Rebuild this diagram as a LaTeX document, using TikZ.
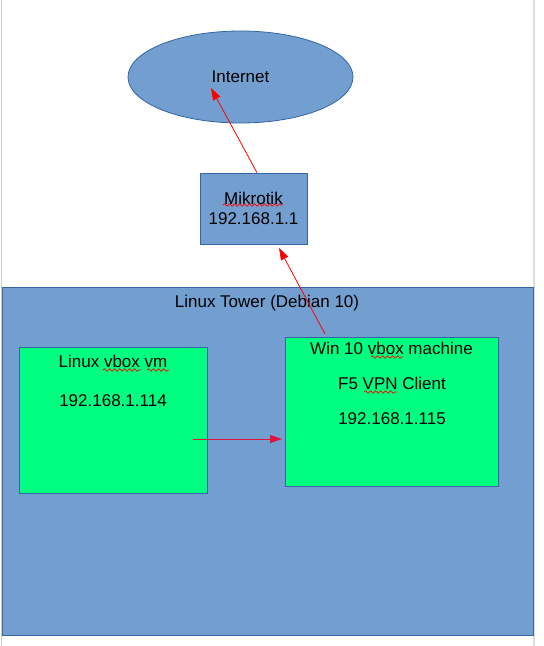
\documentclass[tikz,border=0pt]{standalone}
\usepackage{fontspec}
\setmainfont{Liberation Sans}
\usetikzlibrary{shapes.geometric,arrows.meta,decorations.pathmorphing}

\definecolor{boxblue}{HTML}{729FCF}
\definecolor{edgeblue}{HTML}{3465A4}
\definecolor{vmgreen}{HTML}{00FF80}
\definecolor{pagegray}{HTML}{CFCFCF}
\definecolor{linkred}{HTML}{E0143C}

\tikzset{
  bluebox/.style={draw=edgeblue, fill=boxblue, line width=0.8pt, inner sep=0pt},
  vmbox/.style={draw=edgeblue, fill=vmgreen, line width=0.8pt, inner sep=0pt},
  label text/.style={font=\fontsize{17}{19.5}\selectfont, inner sep=0pt, anchor=base},
  wire/.style={red, line width=0.8pt, -{Triangle[length=12pt,width=8pt]}},
  spellwave/.style={red, line width=0.7pt, decorate,
    decoration={snake, amplitude=1.2pt, segment length=5pt}}
}

\begin{document}
\begin{tikzpicture}[x=1pt,y=-1pt]
  \useasboundingbox (0,0) rectangle (544,646);
  \fill[white] (0,0) rectangle (544,646);

  %%%%%%%%%%%%% page edges %%%%%%%%%%%%%
  \draw[pagegray, line width=1pt] (1,0) -- (1,646);
  \draw[pagegray!70, line width=2pt] (533.5,0) -- (533.5,646);

  %%%%%%%%%%%%% top part %%%%%%%%%%%%%
  \node[bluebox, ellipse, minimum width=225pt, minimum height=92pt,
        font=\fontsize{17}{19.5}\selectfont] (internet) at (240.5,77) {Internet};
  \node[bluebox, minimum width=107pt, minimum height=71pt, align=center,
        font=\fontsize{17}{19.5}\selectfont] (mikrotik) at (253.5,208.5)
        {Mikrotik\\192.168.1.1};

  %%%%%%%%%%%%% the tower %%%%%%%%%%%%%
  \node[bluebox, minimum width=531pt, minimum height=348pt] (tower) at (267.5,461) {};
  \node[label text] (towertitle) at (267,307) {Linux Tower (Debian 10)};

  \node[vmbox, minimum width=188pt, minimum height=146pt] (vm) at (113,420) {};
  \node[label text] (vmname) at (113,367) {Linux vbox vm};
  \node[label text] (vmip) at (113,406) {192.168.1.114};

  \node[vmbox, minimum width=213pt, minimum height=149pt] (win) at (392,411.5) {};
  \node[label text] (winname) at (391.5,354) {Win 10 vbox machine};
  \node[label text] (winvpn) at (392,389) {F5 VPN Client};
  \node[label text] (winip) at (392,424) {192.168.1.115};

  %%%%%%%%%%%%% spelling marks %%%%%%%%%%%%%
  \draw[spellwave] (223,205) -- (283,205);
  \draw[spellwave] (103,370) -- (141,370);
  \draw[spellwave] (147,370) -- (169,370);
  \draw[spellwave] (371,357) -- (403,357);
  \draw[spellwave] (364,392) -- (397,392);

  %%%%%%%%%%%%% links %%%%%%%%%%%%%
  \coordinate (inettip) at (211,88);
  \coordinate (wintail) at (325,334);
  \coordinate (mikrotiktip) at (279,248);
  \coordinate (vmtail) at (193,439);
  \coordinate (wintip) at (282,439);

  \draw[wire] ([xshift=3.5pt]mikrotik.north) -- (inettip);
  \draw[wire] (wintail) -- (mikrotiktip);
  \draw[wire, linkred] (vmtail) -- (wintip);
\end{tikzpicture}
\end{document}
